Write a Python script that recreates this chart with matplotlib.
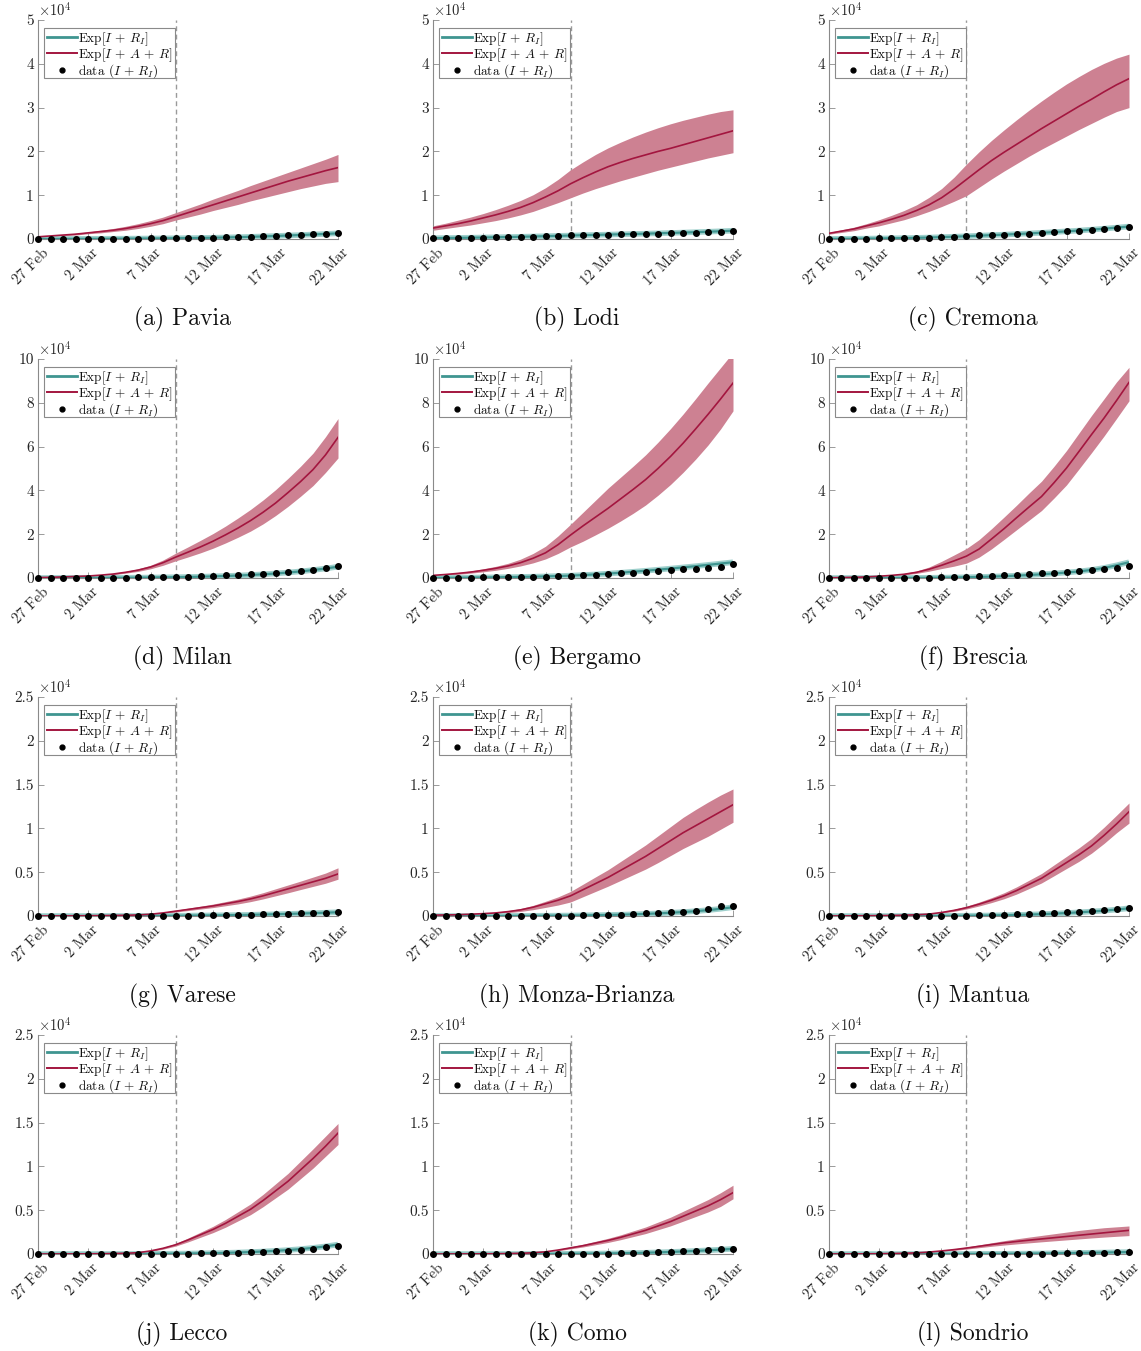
import matplotlib
matplotlib.use("Agg")
import matplotlib.pyplot as plt
import matplotlib.transforms as mtransforms
from matplotlib.patches import Rectangle
import numpy as np
from matplotlib.lines import Line2D

plt.rcParams['font.family'] = ['cmr10', 'DejaVu Serif']
plt.rcParams['mathtext.fontset'] = 'cm'
plt.rcParams['axes.formatter.use_mathtext'] = True

# ---------------- data ----------------
days = list(range(25))                      # 27 Feb .. 22 Mar 2020
xtick_pos = [0, 4, 9, 14, 19, 24]
xtick_labels = ['27 Feb', '2 Mar', '7 Mar', '12 Mar', '17 Mar', '22 Mar']
lockdown_day = 11

regions = ['Pavia', 'Lodi', 'Cremona', 'Milan', 'Bergamo', 'Brescia',
           'Varese', 'Monza-Brianza', 'Mantua', 'Lecco', 'Como', 'Sondrio']
letters = ['a', 'b', 'c', 'd', 'e', 'f', 'g', 'h', 'i', 'j', 'k', 'l']
ymax = [5, 5, 5, 10, 10, 10, 2.5, 2.5, 2.5, 2.5, 2.5, 2.5]
yticks_big = [0, 1, 2, 3, 4, 5]
yticks_huge = [0, 2, 4, 6, 8, 10]
yticks_small = [0, 0.5, 1, 1.5, 2, 2.5]

# observed I + R_I (counts)
pavia_data = [14, 24, 27, 38, 51, 62, 76, 90, 105, 123, 142, 166, 193, 223, 274, 345, 451, 556, 677, 791, 898, 991, 1065, 1169, 1319]
lodi_data = [180, 200, 250, 300, 340, 390, 450, 500, 560, 650, 740, 810, 860, 930, 970, 1050, 1100, 1140, 1220, 1320, 1360, 1430, 1550, 1650, 1770]
cremona_data = [20, 50, 60, 90, 120, 150, 200, 260, 330, 400, 560, 670, 800, 920, 960, 1040, 1170, 1340, 1560, 1790, 1880, 2070, 2170, 2430, 2730]
milan_data = [35, 50, 60, 70, 60, 90, 100, 150, 230, 270, 360, 410, 560, 750, 920, 1150, 1300, 1750, 1980, 2330, 2800, 3280, 3800, 4500, 5330]
bergamo_data = [72, 103, 110, 209, 243, 257, 372, 423, 537, 623, 761, 997, 1245, 1472, 1815, 2136, 2368, 2864, 3416, 3760, 3993, 4305, 4645, 5154, 6216]
brescia_data = [0, 1, 2, 5, 10, 16, 32, 79, 155, 249, 382, 501, 739, 790, 1351, 1598, 1784, 2122, 2473, 2918, 3300, 3784, 4247, 4648, 5317]
varese_data = [1, 2, 2, 3, 4, 5, 6, 10, 14, 20, 26, 35, 52, 64, 74, 99, 128, 152, 186, 230, 264, 317, 343, 375, 411]
monza_data = [2, 3, 5, 7, 8, 10, 14, 18, 27, 31, 39, 46, 59, 69, 89, 148, 210, 290, 330, 420, 470, 520, 850, 1090, 1120]
mantua_data = [0, 0, 1, 1, 2, 2, 4, 7, 10, 14, 25, 40, 60, 85, 120, 180, 230, 290, 350, 420, 490, 570, 690, 790, 880]
lecco_data = [0, 1, 1, 2, 3, 5, 7, 10, 15, 24, 31, 37, 53, 70, 96, 125, 160, 200, 250, 305, 370, 480, 590, 810, 930]
como_data = [2, 2, 3, 3, 4, 5, 7, 9, 11, 13, 16, 20, 27, 35, 50, 75, 107, 150, 200, 260, 330, 390, 440, 520, 590]
sondrio_data = [0, 0, 0, 0, 1, 2, 3, 4, 5, 6, 8, 10, 12, 15, 20, 30, 38, 53, 65, 80, 101, 130, 155, 178, 205]

# model Exp[I + R_I] (counts)
pavia_fit = [15, 20, 27, 35, 45, 57, 70, 85, 102, 122, 145, 172, 204, 242, 290, 350, 420, 500, 590, 690, 800, 910, 1030, 1160, 1300]
lodi_fit = [190, 220, 260, 300, 345, 395, 450, 510, 575, 645, 720, 795, 870, 940, 1010, 1080, 1150, 1220, 1300, 1380, 1470, 1560, 1660, 1770, 1890]
cremona_fit = [30, 45, 65, 90, 120, 160, 210, 270, 340, 430, 530, 640, 760, 880, 1000, 1130, 1270, 1420, 1580, 1750, 1930, 2140, 2360, 2600, 2850]
milan_fit = [30, 40, 50, 62, 76, 92, 112, 140, 180, 230, 300, 380, 480, 600, 750, 920, 1130, 1380, 1690, 2060, 2500, 3020, 3630, 4330, 5150]
bergamo_fit = [80, 110, 150, 200, 260, 330, 410, 500, 610, 740, 900, 1100, 1350, 1650, 2000, 2400, 2850, 3300, 3800, 4300, 4850, 5400, 6000, 6600, 7200]
brescia_fit = [5, 8, 12, 18, 26, 38, 55, 80, 120, 175, 250, 350, 480, 640, 840, 1080, 1360, 1690, 2070, 2500, 3000, 3700, 4600, 5800, 7200]
varese_fit = [2, 3, 4, 5, 6, 8, 10, 13, 17, 22, 28, 36, 46, 58, 72, 90, 112, 138, 168, 202, 240, 282, 328, 378, 430]
monza_fit = [3, 4, 5, 7, 9, 12, 16, 21, 27, 35, 45, 58, 74, 94, 120, 152, 192, 240, 300, 370, 450, 550, 670, 820, 1000]
mantua_fit = [1, 1, 2, 2, 3, 4, 6, 8, 11, 16, 23, 33, 47, 65, 90, 120, 160, 210, 270, 340, 420, 510, 610, 730, 880]
lecco_fit = [1, 1, 2, 3, 4, 6, 8, 11, 16, 22, 30, 41, 56, 75, 100, 132, 172, 222, 284, 360, 450, 560, 700, 870, 1080]
como_fit = [2, 2, 3, 3, 4, 5, 7, 9, 12, 16, 21, 28, 37, 49, 65, 86, 112, 145, 185, 235, 290, 350, 420, 500, 590]
sondrio_fit = [0, 0, 1, 1, 1, 2, 3, 4, 5, 7, 9, 12, 16, 21, 28, 37, 48, 62, 79, 99, 121, 145, 170, 195, 220]

# model Exp[I + A + R] (units of 1e4): mean, lower, upper
pavia_mean = [0.05, 0.07, 0.09, 0.11, 0.14, 0.17, 0.20, 0.24, 0.29, 0.35, 0.42, 0.51, 0.60, 0.69, 0.78, 0.87, 0.96, 1.05, 1.14, 1.23, 1.32, 1.40, 1.48, 1.56, 1.63]
pavia_hi = [0.06, 0.08, 0.10, 0.13, 0.16, 0.20, 0.24, 0.29, 0.35, 0.42, 0.50, 0.60, 0.70, 0.80, 0.91, 1.01, 1.11, 1.22, 1.32, 1.42, 1.52, 1.62, 1.72, 1.82, 1.93]
pavia_lo = [0.04, 0.06, 0.08, 0.09, 0.12, 0.14, 0.17, 0.20, 0.24, 0.29, 0.35, 0.43, 0.50, 0.57, 0.65, 0.72, 0.79, 0.87, 0.94, 1.01, 1.08, 1.15, 1.21, 1.27, 1.31]

lodi_mean = [0.25, 0.30, 0.35, 0.41, 0.48, 0.55, 0.63, 0.72, 0.83, 0.96, 1.10, 1.26, 1.40, 1.53, 1.65, 1.75, 1.84, 1.92, 2.00, 2.07, 2.15, 2.23, 2.31, 2.39, 2.47]
lodi_hi = [0.30, 0.36, 0.43, 0.50, 0.58, 0.67, 0.77, 0.88, 1.01, 1.17, 1.36, 1.58, 1.76, 1.93, 2.08, 2.21, 2.33, 2.44, 2.54, 2.63, 2.71, 2.78, 2.85, 2.91, 2.95]
lodi_lo = [0.20, 0.24, 0.28, 0.32, 0.37, 0.42, 0.48, 0.55, 0.63, 0.73, 0.83, 0.94, 1.05, 1.15, 1.24, 1.33, 1.41, 1.49, 1.57, 1.64, 1.71, 1.78, 1.85, 1.91, 1.97]

cremona_mean = [0.13, 0.18, 0.23, 0.30, 0.37, 0.45, 0.54, 0.65, 0.78, 0.94, 1.14, 1.36, 1.58, 1.79, 1.98, 2.16, 2.34, 2.52, 2.69, 2.86, 3.03, 3.19, 3.36, 3.52, 3.66]
cremona_hi = [0.15, 0.21, 0.27, 0.35, 0.44, 0.54, 0.65, 0.78, 0.95, 1.15, 1.41, 1.71, 1.99, 2.25, 2.49, 2.72, 2.94, 3.15, 3.35, 3.54, 3.71, 3.87, 4.01, 4.13, 4.22]
cremona_lo = [0.11, 0.15, 0.19, 0.25, 0.30, 0.37, 0.44, 0.53, 0.63, 0.74, 0.86, 0.99, 1.18, 1.37, 1.55, 1.72, 1.89, 2.05, 2.20, 2.35, 2.50, 2.64, 2.78, 2.91, 3.00]

milan_mean = [0.02, 0.03, 0.05, 0.07, 0.09, 0.13, 0.18, 0.26, 0.36, 0.50, 0.70, 0.95, 1.18, 1.42, 1.68, 1.97, 2.28, 2.62, 3.00, 3.42, 3.90, 4.40, 4.95, 5.62, 6.42]
milan_hi = [0.02, 0.04, 0.06, 0.08, 0.11, 0.15, 0.21, 0.30, 0.42, 0.58, 0.82, 1.13, 1.42, 1.72, 2.03, 2.37, 2.74, 3.13, 3.56, 4.03, 4.55, 5.10, 5.70, 6.45, 7.28]
milan_lo = [0.02, 0.03, 0.04, 0.06, 0.08, 0.11, 0.15, 0.22, 0.30, 0.42, 0.58, 0.78, 0.96, 1.15, 1.36, 1.60, 1.86, 2.14, 2.47, 2.85, 3.27, 3.73, 4.22, 4.82, 5.48]

bergamo_mean = [0.12, 0.16, 0.21, 0.27, 0.35, 0.44, 0.55, 0.70, 0.90, 1.15, 1.52, 1.96, 2.38, 2.78, 3.18, 3.61, 4.04, 4.49, 5.00, 5.55, 6.15, 6.80, 7.47, 8.17, 8.90]
bergamo_hi = [0.14, 0.19, 0.25, 0.32, 0.42, 0.53, 0.67, 0.86, 1.12, 1.45, 1.92, 2.45, 3.00, 3.55, 4.10, 4.60, 5.10, 5.62, 6.20, 6.82, 7.48, 8.18, 8.90, 9.60, 10.30]
bergamo_lo = [0.10, 0.13, 0.17, 0.22, 0.28, 0.35, 0.44, 0.55, 0.69, 0.87, 1.12, 1.42, 1.68, 1.97, 2.27, 2.60, 2.95, 3.33, 3.78, 4.27, 4.82, 5.42, 6.07, 6.80, 7.63]

brescia_mean = [0.01, 0.02, 0.03, 0.05, 0.08, 0.12, 0.17, 0.26, 0.40, 0.58, 0.78, 1.00, 1.32, 1.78, 2.25, 2.75, 3.24, 3.72, 4.35, 5.02, 5.78, 6.55, 7.30, 8.10, 8.93]
brescia_hi = [0.01, 0.02, 0.04, 0.06, 0.10, 0.15, 0.21, 0.32, 0.50, 0.76, 1.05, 1.35, 1.75, 2.25, 2.78, 3.32, 3.88, 4.42, 5.10, 5.82, 6.62, 7.42, 8.18, 8.95, 9.62]
brescia_lo = [0.01, 0.02, 0.03, 0.04, 0.07, 0.10, 0.14, 0.21, 0.31, 0.43, 0.54, 0.68, 0.95, 1.33, 1.76, 2.20, 2.64, 3.08, 3.65, 4.25, 4.98, 5.72, 6.48, 7.28, 8.09]

varese_mean = [0.000, 0.001, 0.001, 0.002, 0.003, 0.004, 0.006, 0.008, 0.012, 0.020, 0.035, 0.055, 0.075, 0.095, 0.115, 0.140, 0.165, 0.195, 0.230, 0.270, 0.310, 0.350, 0.390, 0.430, 0.480]
varese_hi = [0.000, 0.001, 0.001, 0.002, 0.003, 0.005, 0.007, 0.010, 0.015, 0.025, 0.043, 0.066, 0.089, 0.112, 0.136, 0.164, 0.193, 0.227, 0.266, 0.310, 0.354, 0.398, 0.444, 0.490, 0.550]
varese_lo = [0.000, 0.001, 0.001, 0.002, 0.003, 0.004, 0.005, 0.007, 0.010, 0.016, 0.028, 0.045, 0.062, 0.079, 0.096, 0.117, 0.138, 0.164, 0.195, 0.230, 0.265, 0.302, 0.338, 0.374, 0.420]

monza_mean = [0.010, 0.012, 0.015, 0.020, 0.027, 0.035, 0.050, 0.070, 0.100, 0.140, 0.180, 0.230, 0.300, 0.370, 0.440, 0.520, 0.600, 0.680, 0.770, 0.860, 0.950, 1.030, 1.110, 1.190, 1.270]
monza_hi = [0.012, 0.015, 0.019, 0.025, 0.033, 0.043, 0.061, 0.085, 0.121, 0.168, 0.218, 0.280, 0.363, 0.446, 0.528, 0.622, 0.716, 0.810, 0.915, 1.020, 1.125, 1.215, 1.300, 1.380, 1.450]
monza_lo = [0.008, 0.010, 0.012, 0.016, 0.021, 0.027, 0.038, 0.052, 0.072, 0.098, 0.125, 0.160, 0.220, 0.280, 0.340, 0.405, 0.470, 0.535, 0.610, 0.690, 0.770, 0.840, 0.910, 0.990, 1.070]

mantua_mean = [0.000, 0.001, 0.002, 0.003, 0.004, 0.006, 0.009, 0.014, 0.022, 0.040, 0.064, 0.095, 0.135, 0.180, 0.230, 0.290, 0.360, 0.430, 0.520, 0.610, 0.700, 0.800, 0.920, 1.050, 1.190]
mantua_hi = [0.000, 0.001, 0.002, 0.003, 0.005, 0.007, 0.011, 0.017, 0.027, 0.048, 0.076, 0.112, 0.158, 0.209, 0.265, 0.332, 0.408, 0.485, 0.583, 0.680, 0.778, 0.885, 1.013, 1.150, 1.290]
mantua_lo = [0.000, 0.001, 0.002, 0.003, 0.004, 0.005, 0.008, 0.012, 0.018, 0.033, 0.053, 0.080, 0.114, 0.153, 0.197, 0.250, 0.313, 0.377, 0.459, 0.542, 0.624, 0.717, 0.828, 0.950, 1.060]

lecco_mean = [0.000, 0.000, 0.001, 0.001, 0.002, 0.003, 0.005, 0.008, 0.015, 0.035, 0.065, 0.105, 0.160, 0.220, 0.280, 0.350, 0.430, 0.510, 0.610, 0.720, 0.830, 0.960, 1.090, 1.230, 1.380]
lecco_hi = [0.000, 0.000, 0.001, 0.001, 0.002, 0.004, 0.006, 0.010, 0.018, 0.041, 0.075, 0.120, 0.182, 0.249, 0.316, 0.394, 0.482, 0.571, 0.680, 0.800, 0.920, 1.060, 1.200, 1.345, 1.490]
lecco_lo = [0.000, 0.000, 0.001, 0.001, 0.002, 0.003, 0.004, 0.007, 0.012, 0.029, 0.055, 0.090, 0.138, 0.191, 0.244, 0.306, 0.378, 0.449, 0.540, 0.640, 0.740, 0.860, 0.980, 1.115, 1.250]

como_mean = [0.000, 0.000, 0.001, 0.001, 0.002, 0.003, 0.005, 0.008, 0.014, 0.025, 0.045, 0.070, 0.095, 0.125, 0.155, 0.190, 0.230, 0.270, 0.320, 0.370, 0.430, 0.490, 0.550, 0.620, 0.700]
como_hi = [0.000, 0.000, 0.001, 0.001, 0.002, 0.004, 0.006, 0.010, 0.017, 0.030, 0.054, 0.082, 0.111, 0.145, 0.179, 0.218, 0.263, 0.308, 0.364, 0.420, 0.487, 0.554, 0.621, 0.699, 0.785]
como_lo = [0.000, 0.000, 0.001, 0.001, 0.002, 0.003, 0.004, 0.007, 0.012, 0.021, 0.037, 0.059, 0.080, 0.106, 0.132, 0.163, 0.198, 0.233, 0.277, 0.321, 0.374, 0.427, 0.480, 0.543, 0.630]

sondrio_mean = [0.000, 0.001, 0.001, 0.002, 0.003, 0.005, 0.008, 0.013, 0.022, 0.035, 0.050, 0.068, 0.088, 0.108, 0.127, 0.143, 0.158, 0.172, 0.186, 0.200, 0.214, 0.228, 0.242, 0.256, 0.270]
sondrio_hi = [0.000, 0.001, 0.001, 0.002, 0.003, 0.006, 0.009, 0.015, 0.025, 0.040, 0.058, 0.080, 0.104, 0.128, 0.152, 0.173, 0.193, 0.212, 0.231, 0.250, 0.269, 0.285, 0.300, 0.310, 0.320]
sondrio_lo = [0.000, 0.001, 0.001, 0.002, 0.003, 0.004, 0.007, 0.011, 0.019, 0.030, 0.042, 0.056, 0.072, 0.088, 0.102, 0.115, 0.127, 0.139, 0.150, 0.161, 0.172, 0.183, 0.193, 0.202, 0.210]

obs = [pavia_data, lodi_data, cremona_data, milan_data, bergamo_data, brescia_data,
       varese_data, monza_data, mantua_data, lecco_data, como_data, sondrio_data]
fits = [pavia_fit, lodi_fit, cremona_fit, milan_fit, bergamo_fit, brescia_fit,
        varese_fit, monza_fit, mantua_fit, lecco_fit, como_fit, sondrio_fit]
means = [pavia_mean, lodi_mean, cremona_mean, milan_mean, bergamo_mean, brescia_mean,
         varese_mean, monza_mean, mantua_mean, lecco_mean, como_mean, sondrio_mean]
his = [pavia_hi, lodi_hi, cremona_hi, milan_hi, bergamo_hi, brescia_hi,
       varese_hi, monza_hi, mantua_hi, lecco_hi, como_hi, sondrio_hi]
los = [pavia_lo, lodi_lo, cremona_lo, milan_lo, bergamo_lo, brescia_lo,
       varese_lo, monza_lo, mantua_lo, lecco_lo, como_lo, sondrio_lo]

# ---------------- style ----------------
TEAL = '#3f9590'
TEAL_BAND = '#9fd0cc'
RED = '#a3163f'
RED_BAND = '#cd8192'
AX_COL = '#8a8a8a'
TXT_COL = '#262626'

W, H = 1141, 1351
fig = plt.figure(figsize=(W / 100, H / 100), dpi=100)

col_left = [38, 433, 829]
row_top = [20, 359, 697, 1035]
ax_w, ax_h = 300, 219

for k, name in enumerate(regions):
    r, c = divmod(k, 3)
    left = col_left[c] / W
    bottom = 1 - (row_top[r] + ax_h) / H
    ax = fig.add_axes([left, bottom, ax_w / W, ax_h / H])

    x = np.array(days)
    ytop = ymax[k]
    ax.axvline(lockdown_day, color='#9a9a9a', lw=1.0, ls=(0, (3.5, 2.5)), zorder=1)
    ax.fill_between(x, los[k], his[k], color=RED_BAND, lw=0, zorder=2)
    ax.plot(x, np.array(fits[k]) / 1e4, color=TEAL_BAND, lw=4.0, zorder=3, solid_capstyle='butt')
    ax.plot(x, np.array(fits[k]) / 1e4, color=TEAL, lw=1.6, zorder=4)
    ax.plot(x, means[k], color=RED, lw=1.2, zorder=4)
    ax.plot(x, np.array(obs[k]) / 1e4, ls='none', marker='o', ms=4.0, color='black',
            zorder=5, clip_on=False)

    ax.set_xlim(0, 24)
    ax.set_ylim(0, ytop)
    if ytop == 5:
        yt = yticks_big
    elif ytop == 10:
        yt = yticks_huge
    else:
        yt = yticks_small
    ax.set_yticks(yt)
    ax.set_yticklabels([('%g' % v) for v in yt])
    ax.set_xticks(xtick_pos)
    ax.set_xticklabels(xtick_labels, rotation=45, ha='right', va='top',
                       rotation_mode='anchor')
    for s in ['top', 'right']:
        ax.spines[s].set_visible(False)
    for s in ['left', 'bottom']:
        ax.spines[s].set_color(AX_COL)
        ax.spines[s].set_linewidth(0.8)
    ax.tick_params(direction='in', length=4, width=0.6, color=AX_COL,
                   labelsize=11, labelcolor=TXT_COL, pad=3)
    ax.tick_params(axis='x', pad=5, labelsize=10.7)
    shift = mtransforms.ScaledTranslation(0.035, 0.0, fig.dpi_scale_trans)
    for tk in ax.xaxis.get_major_ticks():
        tk.label1.set_transform(tk.label1.get_transform() + shift)
    ax.text(0.0, 1.005, r'$\times10^4$', transform=ax.transAxes, ha='left', va='bottom',
            fontsize=10.5, color=TXT_COL)

    # legend box (drawn as a plain rectangle to match the tight frame)
    box = Rectangle((6 / ax_w, (ax_h - 58) / ax_h), 131 / ax_w, 50 / ax_h,
                    transform=ax.transAxes, facecolor='white', edgecolor='#8a8a8a',
                    lw=0.8, zorder=6)
    ax.add_patch(box)
    handles = [Line2D([], [], color=TEAL, lw=2.0),
               Line2D([], [], color=RED, lw=1.4),
               Line2D([], [], ls='none', marker='o', ms=3.5, color='black')]
    labels = [r'Exp$[I\,+\,R_I]$', r'Exp$[I\,+\,A\,+\,R]$', r'data $(I\,+\,R_I)$']
    leg = ax.legend(handles, labels, loc='upper left', bbox_to_anchor=(0.02, 0.966),
                    borderaxespad=0, fontsize=9.5, handlelength=2.3, handletextpad=0.1,
                    labelspacing=-0.12, borderpad=0.2, frameon=False, numpoints=1)
    leg.set_zorder(7)
    for t in leg.get_texts():
        t.set_color('#111111')

    cap_y = 1 - (row_top[r] + 299) / H
    cap_x = (col_left[c] + ax_w / 2 - 6) / W
    fig.text(cap_x, cap_y, '(%s) %s' % (letters[k], name), ha='center', va='center',
             fontsize=17, color='#111111')

fig.savefig('out.png', dpi=100)
